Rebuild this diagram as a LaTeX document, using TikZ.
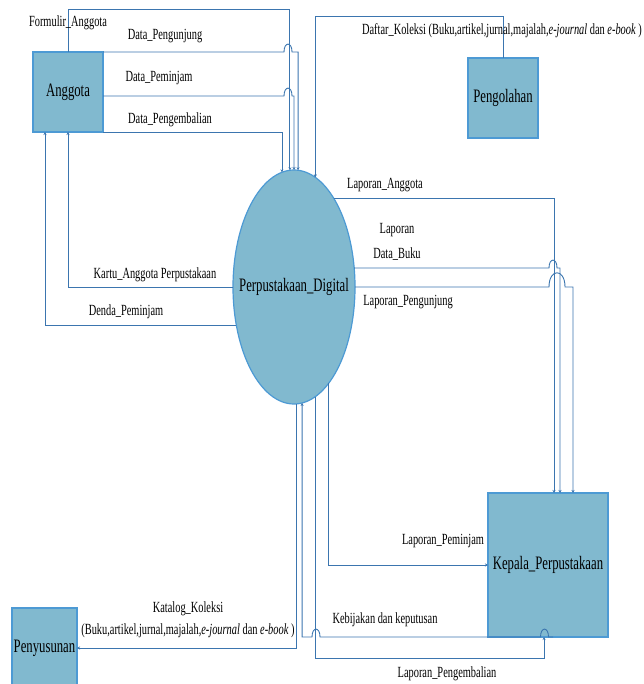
\documentclass[tikz,border=0pt]{standalone}
\usepackage{fontspec}
\setmainfont[FakeStretch=0.67]{Liberation Serif}
\usetikzlibrary{shapes.geometric,arrows.meta,calc}
\definecolor{boxfill}{HTML}{81B9CF}
\definecolor{boxline}{HTML}{4D9AD4}
\definecolor{flowline}{HTML}{3B75AF}
\tikzset{
  entity/.style={draw=boxline, fill=boxfill, line width=1.2pt, inner sep=0pt, outer sep=0pt, font=\fontsize{19}{22}\selectfont},
  flow/.style={draw=flowline, line width=0.9pt, -{Stealth[length=3pt,width=3pt]}},
  lbl/.style={inner sep=1pt, align=center, font=\fontsize{15.5}{18}\selectfont}
}
\begin{document}
\begin{tikzpicture}[x=1pt,y=-1pt]
\useasboundingbox (0,0) rectangle (643,684);

% entities and process
\node[entity, minimum width=70pt, minimum height=80pt] (anggota) at (68,92) {Anggota};
\node[entity, minimum width=70pt, minimum height=80pt] (pengolahan) at (503,98) {Pengolahan};
\node[entity, minimum width=120pt, minimum height=144pt] (kepala) at (548,565) {Kepala\_Perpustakaan};
\node[entity, minimum width=65pt, minimum height=80pt] (penyusunan) at (44.5,648) {Penyusunan};
\node[entity, ellipse, inner xsep=-16pt, minimum width=122pt, minimum height=234pt] (digital) at (294,287) {Perpustakaan\_Digital};

% Anggota -> Perpustakaan_Digital
\draw[flow] (anggota.north) -- ++(0,-43) -| (digital.92.95);
\draw[flow] (anggota.north east) -- (284,52) .. controls (284,41.5) and (292,41.5) .. (292,52) -| (digital.88.04);
\draw[flow] (anggota.east |- 0,96) -- (284,96) .. controls (284,85.5) and (292,85.5) .. (292,96) -| (digital.90);
\draw[flow] (anggota.south east) -| (digital.96.5);

% Perpustakaan_Digital -> Anggota
\draw[flow] (digital.180) -| (anggota.south);
\draw[flow] (digital.214.9) -| ($(anggota.south west)+(12,0)$);

% Pengolahan -> Perpustakaan_Digital
\draw[flow] (pengolahan.north) -- ++(0,-42) -| (digital.79.2);

% Perpustakaan_Digital -> Kepala_Perpustakaan
\draw[flow] (digital.66 |- 0,198) -| ($(kepala.north)+(6,0)$);
\draw[flow] (digital.17.5 |- 0,268) -- (549,268) .. controls (549,257.5) and (557,257.5) .. (557,268) -| ($(kepala.north)+(12,0)$);
\draw[flow] (digital.0) -- (549,287) .. controls (549,268) and (565,268) .. (565,287) -| ($(kepala.north)+(25,0)$);
\draw[flow] (digital.290.87) |- (kepala.west);
\draw[flow] (digital.281.4) |- ($(kepala.south)+(-4,21)$) -- ($(kepala.south)+(-4,0)$);

% Kepala_Perpustakaan -> Perpustakaan_Digital
\draw[flow] ($(kepala.south)+(5,0)$) -- (548.5,637) .. controls (548.5,626.5) and (540.5,626.5) .. (540.5,637)
  -- (320,637) .. controls (320,626.5) and (312,626.5) .. (312,637) -| (digital.274.45);

% Perpustakaan_Digital -> Penyusunan
\draw[flow] (digital.271.47) |- (penyusunan.east);

% labels
\node[lbl] (lformulir) at (68,23) {Formulir\_Anggota};
\node[lbl] (lpengunjung) at (165,36) {Data\_Pengunjung};
\node[lbl] (lpeminjam) at (159,78) {Data\_Peminjam};
\node[lbl] (lpengembalian) at (170,120) {Data\_Pengembalian};
\node[lbl] (ldaftar) at (502,31) {Daftar\_Koleksi (Buku,artikel,jurnal,majalah,\textit{e-journal} dan \textit{e-book} )};
\node[lbl] (lkartu) at (155,275) {Kartu\_Anggota Perpustakaan};
\node[lbl] (ldenda) at (126,312) {Denda\_Peminjam};
\node[lbl] (lapanggota) at (385,185) {Laporan\_Anggota};
\node[lbl, font=\fontsize{15.5}{25}\selectfont] (lapbuku) at (397,242) {Laporan\\Data\_Buku};
\node[lbl] (lappengunjung) at (408,302) {Laporan\_Pengunjung};
\node[lbl] (lappeminjam) at (443,541) {Laporan\_Peminjam};
\node[lbl] (lkebijakan) at (385,620) {Kebijakan dan keputusan};
\node[lbl] (lappengembalian) at (447,674) {Laporan\_Pengembalian};
\node[lbl, font=\fontsize{15.5}{22}\selectfont] (lkatalog) at (188,620) {Katalog\_Koleksi\\(Buku,artikel,jurnal,majalah,\textit{e-journal} dan \textit{e-book} )};
\end{tikzpicture}
\end{document}
